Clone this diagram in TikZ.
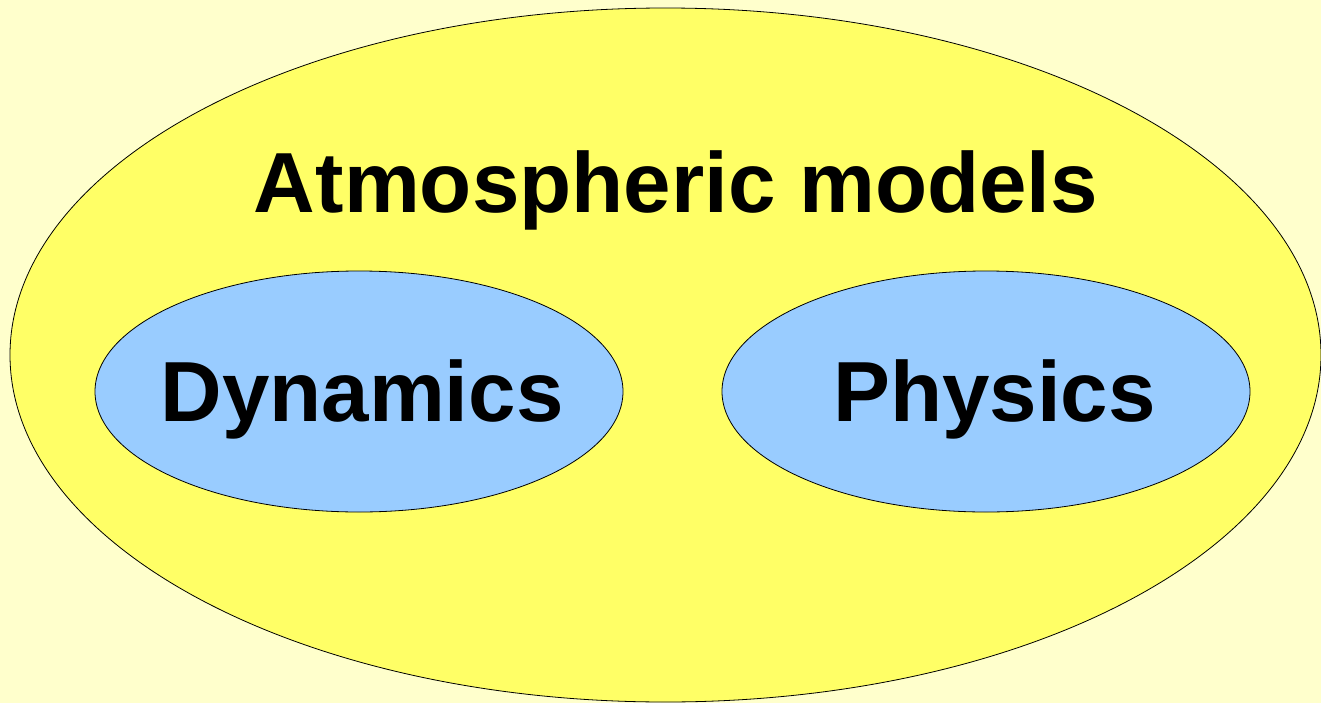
\documentclass[tikz,border=0pt]{standalone}
\usepackage{fontspec}
\setmainfont{Liberation Sans}
\usepackage{xcolor}
\usetikzlibrary{shapes.geometric}

\definecolor{pagebg}{HTML}{FFFFCC}
\definecolor{outeryellow}{HTML}{FFFF66}
\definecolor{innerblue}{HTML}{99CCFF}

\begin{document}
\begin{tikzpicture}[
  x=0.75pt, y=-0.75pt,
  blob/.style  = {draw, ellipse, line width=0.6pt, inner sep=0pt},
  title/.style = {anchor=base, font=\fontsize{64}{70}\selectfont\bfseries},
]

% page
\useasboundingbox[fill=pagebg] (0,0) rectangle (1321,703);

% outer set
\node[blob, fill=outeryellow, minimum width=983.25pt, minimum height=520.5pt]
  (atmos) at (665.5,355) {};
\node[title] (atmoslbl) at (676,212) {Atmospheric models};

% inner sets
\node[blob, fill=innerblue, minimum width=396pt, minimum height=180.75pt]
  (dyn) at (359,391.5) {};
\node[blob, fill=innerblue, minimum width=396pt, minimum height=180.75pt]
  (phys) at (986,391.5) {};

\node[title] (dynlbl)  at (362,421)   {Dynamics};
\node[title] (physlbl) at (994.5,421) {Physics};

\end{tikzpicture}
\end{document}
